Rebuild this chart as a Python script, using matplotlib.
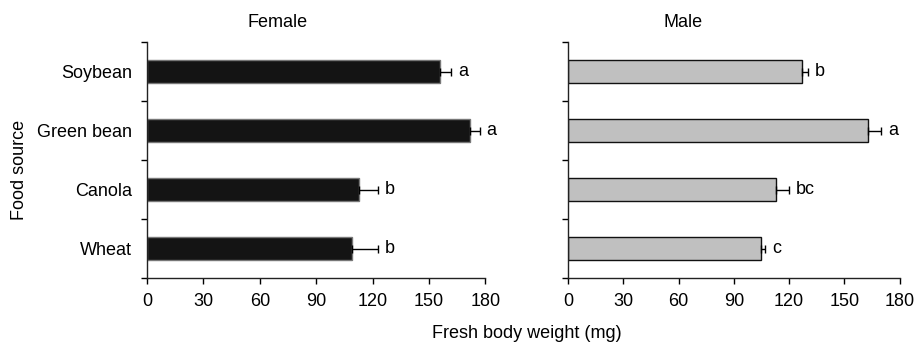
import matplotlib.pyplot as plt

foods = ["Soybean", "Green bean", "Canola", "Wheat"]

female_mean = [156, 172, 113, 109]
female_err = [6, 5, 10, 14]
female_letters = ["a", "a", "b", "b"]

male_mean = [127, 163, 113, 104.5]
male_err = [3, 7, 7, 2.5]
male_letters = ["b", "a", "bc", "c"]

x_ticks = [0, 30, 60, 90, 120, 150, 180]

plt.rcParams["font.family"] = ["Liberation Sans", "DejaVu Sans"]
plt.rcParams["font.size"] = 13

fig = plt.figure(figsize=(9.19, 3.43), dpi=100)
ax_f = fig.add_axes([0.160, 0.1895, 0.368, 0.688])
ax_m = fig.add_axes([0.618, 0.1895, 0.361, 0.688])

def draw_panel(ax, means, errs, letters, fill, edge, title, title_x, show_labels):
    y_pos = [i + 0.5 for i in range(len(foods))]
    ax.barh(y_pos, means, height=0.39, color=fill, edgecolor=edge, linewidth=1, zorder=2)
    ax.errorbar(means, y_pos, xerr=[[0] * len(errs), errs], fmt="none",
                ecolor="black", elinewidth=1, capsize=3, capthick=1, zorder=3)
    for i in range(len(means)):
        ax.annotate(letters[i], (means[i] + errs[i], y_pos[i]), xytext=(5, 0),
                    textcoords="offset points", va="center", ha="left", fontsize=13)

    ax.set_xlim(0, 180)
    ax.set_ylim(4, 0)
    ax.set_xticks(x_ticks)
    ax.set_yticks([0, 1, 2, 3, 4])
    ax.set_yticklabels([])
    ax.set_yticks(y_pos, minor=True)
    if show_labels:
        ax.set_yticklabels(foods, minor=True)
    else:
        ax.set_yticklabels([], minor=True)
    ax.tick_params(axis="y", which="minor", length=0, pad=11)
    ax.tick_params(axis="both", which="major", length=4, width=1, direction="out")
    ax.tick_params(axis="x", pad=7)

    ax.spines["top"].set_visible(False)
    ax.spines["right"].set_visible(False)
    for side in ["left", "bottom"]:
        ax.spines[side].set_linewidth(1)
        ax.spines[side].set_color("#222222")

    ax.text(title_x, 1.082, title, transform=ax.transAxes, ha="center", va="center", fontsize=13)

draw_panel(ax_f, female_mean, female_err, female_letters, "#141414", "#777777",
           "Female", 0.385, True)
draw_panel(ax_m, male_mean, male_err, male_letters, "#c0c0c0", "#111111",
           "Male", 0.346, False)

fig.text(0.573, 0.028, "Fresh body weight (mg)", ha="center", va="center", fontsize=13)
fig.text(0.021, 0.505, "Food source", rotation=90, ha="center", va="center", fontsize=13)

fig.savefig("out.png", dpi=100)
